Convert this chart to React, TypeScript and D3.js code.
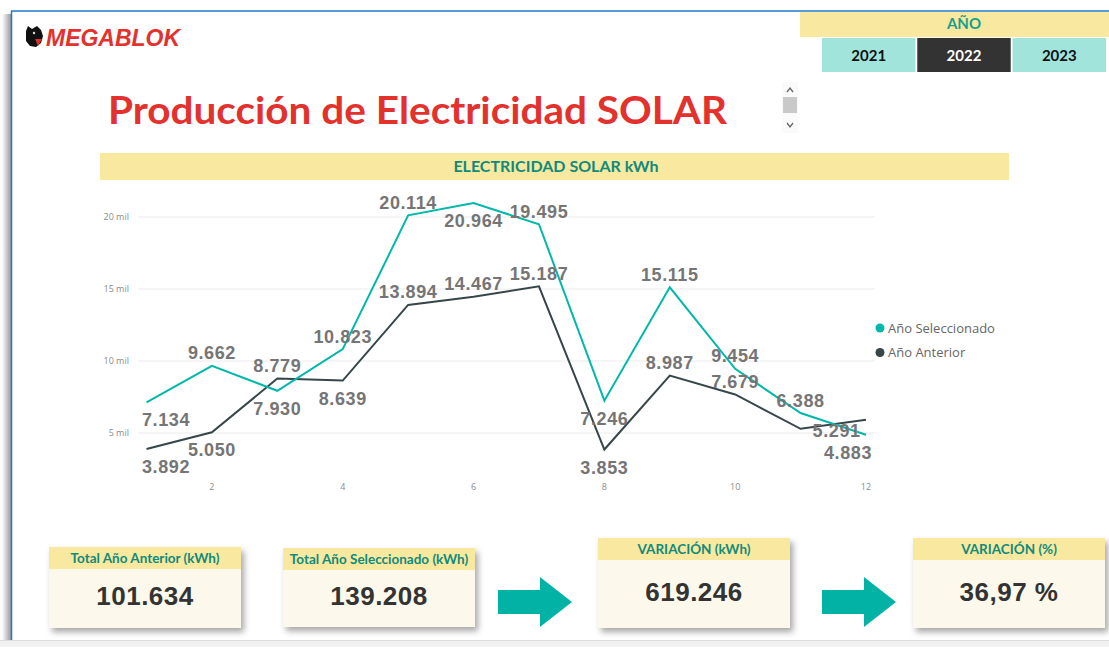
import React, { useEffect, useRef } from "react";
import * as d3 from "d3";

// chart data
const months = [1, 2, 3, 4, 5, 6, 7, 8, 9, 10, 11, 12];
const selectedYear = [7134, 9662, 7930, 10823, 20114, 20964, 19495, 7246, 15115, 9454, 6388, 4883];
const previousYear = [3892, 5050, 8779, 8639, 13894, 14467, 15187, 3853, 8987, 7679, 5291, 5916];
const yTicks = [5000, 10000, 15000, 20000];
const xTicks = [2, 4, 6, 8, 10, 12];
const seriesNames = ["Año Seleccionado", "Año Anterior"];
const years = ["2021", "2022", "2023"];
const activeYear = "2022";
const cardTitles = ["Total Año Anterior (kWh)", "Total Año Seleccionado (kWh)", "VARIACIÓN (kWh)", "VARIACIÓN (%)"];
const cardValues = ["101.634", "139.208", "619.246", "36,97 %"];

// where power bi put each data label: a = above, b = below, r = right, "" = hidden
const selectedLabelPos = ["b", "a", "b", "a", "a", "b", "a", "b", "a", "a", "a", "b"];
const previousLabelPos = ["b", "b", "a", "b", "a", "a", "a", "b", "a", "a", "r", ""];

const TEAL = "#01B8AA";
const DARK = "#374649";
const HEAD_TEAL = "#0f8a7b";
const YELLOW = "#f9e8a0";
const CREAM = "#fdf8ec";

const fmt = d3.formatLocale({ decimal: ",", thousands: ".", grouping: [3], currency: ["", "€"] }).format(",d");

const App = () => {
  const ref = useRef<SVGSVGElement>(null);

  useEffect(() => {
    draw();
  });

  const draw = () => {
    const svg = d3.select(ref.current);
    svg.selectAll("*").remove();

    const defs = svg.append("defs");
    const sh = defs.append("filter").attr("id", "shadow").attr("x", "-10%").attr("y", "-10%").attr("width", "130%").attr("height", "140%");
    sh.append("feDropShadow").attr("dx", 3).attr("dy", 4).attr("stdDeviation", 3).attr("flood-color", "#000").attr("flood-opacity", 0.35);
    const lg = defs.append("linearGradient").attr("id", "leftShade").attr("x1", 0).attr("x2", 1);
    lg.append("stop").attr("offset", 0).attr("stop-color", "#fff");
    lg.append("stop").attr("offset", 1).attr("stop-color", "#9a9a9a");

    // page frame
    svg.append("rect").attr("width", 1109).attr("height", 647).attr("fill", "#fff");
    svg.append("rect").attr("x", 2).attr("y", 14).attr("width", 9).attr("height", 627).attr("fill", "url(#leftShade)");
    svg.append("rect").attr("x", 0).attr("y", 640).attr("width", 1109).attr("height", 7).attr("fill", "#f2f2f2");
    svg.append("line").attr("x1", 0).attr("x2", 1109).attr("y1", 640.5).attr("y2", 640.5).attr("stroke", "#dcdcdc");
    svg.append("line").attr("x1", 11.5).attr("x2", 11.5).attr("y1", 11).attr("y2", 640).attr("stroke", "#1f78c9").attr("stroke-width", 1.5);
    svg.append("line").attr("x1", 11).attr("x2", 1109).attr("y1", 11).attr("y2", 11).attr("stroke", "#1f78c9").attr("stroke-width", 1.5);

    // logo
    const logo = svg.append("g");
    logo.append("path")
      .attr("d", "M26,31 L28,26 L32,29 L37,26 L41,30 L43,36 L41,43 L36,47 L30,46 L26,41 Z")
      .attr("fill", "#111");
    logo.append("path").attr("d", "M35,39 L42,39 L38,46 Z").attr("fill", "#d9302c");
    logo.append("circle").attr("cx", 34).attr("cy", 33).attr("r", 1.2).attr("fill", "#ddd");
    logo.append("text")
      .attr("x", 46).attr("y", 46)
      .attr("textLength", 134).attr("lengthAdjust", "spacingAndGlyphs")
      .style("font-family", "'Liberation Sans', Arial, sans-serif")
      .style("font-weight", 700).style("font-style", "italic").style("font-size", "24px")
      .attr("fill", "#e3312d")
      .text("MEGABLOK");

    // year slicer
    svg.append("rect").attr("x", 800).attr("y", 12).attr("width", 309).attr("height", 25).attr("fill", YELLOW);
    svg.append("text").attr("x", 964).attr("y", 29).attr("text-anchor", "middle")
      .style("font-family", "Lato, sans-serif").style("font-weight", 700).style("font-size", "15px")
      .attr("fill", "#16a08c").text("AÑO");
    const bx = d3.scaleBand().domain(years).range([822, 1106]).paddingInner(0.02);
    const btn = svg.append("g").selectAll("g").data(years).join("g");
    btn.append("rect").attr("x", (d) => bx(d) as number).attr("y", 38).attr("width", bx.bandwidth()).attr("height", 34)
      .attr("fill", (d) => (d === activeYear ? "#333" : "#a0e4dc"));
    btn.append("text").attr("x", (d) => (bx(d) as number) + bx.bandwidth() / 2).attr("y", 61).attr("text-anchor", "middle")
      .style("font-family", "Lato, sans-serif").style("font-weight", 700).style("font-size", "15px")
      .attr("fill", (d) => (d === activeYear ? "#fff" : "#111")).text((d) => d);

    // title
    svg.append("text").attr("x", 108).attr("y", 124)
      .attr("textLength", 619).attr("lengthAdjust", "spacingAndGlyphs")
      .style("font-family", "Lato, 'Open Sans', sans-serif").style("font-weight", 700).style("font-size", "38px")
      .attr("fill", "#e3312d").text("Producción de Electricidad SOLAR");

    // little scrollbar
    const sb = svg.append("g");
    sb.append("rect").attr("x", 782).attr("y", 82).attr("width", 16).attr("height", 51).attr("fill", "#fafafa");
    sb.append("rect").attr("x", 783).attr("y", 97).attr("width", 14).attr("height", 16).attr("fill", "#c9c9c9");
    sb.append("path").attr("d", "M787,92 L790,88 L793,92").attr("fill", "none").attr("stroke", "#666").attr("stroke-width", 1.3);
    sb.append("path").attr("d", "M787,123 L790,127 L793,123").attr("fill", "none").attr("stroke", "#666").attr("stroke-width", 1.3);

    // chart header
    svg.append("rect").attr("x", 100).attr("y", 153).attr("width", 909).attr("height", 27).attr("fill", YELLOW);
    svg.append("text").attr("x", 556).attr("y", 172).attr("text-anchor", "middle")
      .style("font-family", "Lato, sans-serif").style("font-weight", 700).style("font-size", "16px")
      .attr("fill", HEAD_TEAL).text("ELECTRICIDAD SOLAR kWh");

    // scales
    const x = d3.scaleLinear().domain([1, 12]).range([146.5, 866]);
    const y = d3.scaleLinear().domain([5000, 20000]).range([433, 217]);
    const plotLeft = 138;
    const plotRight = 875;

    const grid = svg.append("g");
    grid.selectAll("line").data(yTicks).join("line")
      .attr("x1", plotLeft).attr("x2", plotRight)
      .attr("y1", (d) => y(d)).attr("y2", (d) => y(d))
      .attr("stroke", "#ebebeb").attr("stroke-width", 1);
    grid.selectAll("text").data(yTicks).join("text")
      .attr("x", 129).attr("y", (d) => y(d) + 3).attr("text-anchor", "end")
      .style("font-family", "'Open Sans', sans-serif").style("font-size", "9px")
      .attr("fill", "#8a8a8a").text((d) => `${d / 1000} mil`);

    svg.append("g").selectAll("text").data(xTicks).join("text")
      .attr("x", (d) => x(d)).attr("y", 490).attr("text-anchor", "middle")
      .style("font-family", "'Open Sans', sans-serif").style("font-size", "9px")
      .attr("fill", "#8a8a8a").text((d) => d);

    const line = d3.line<number>().x((_, i) => x(months[i])).y((d) => y(d)).curve(d3.curveLinear);

    svg.append("path").datum(previousYear).attr("d", line).attr("fill", "none").attr("stroke", DARK).attr("stroke-width", 2);
    svg.append("path").datum(selectedYear).attr("d", line).attr("fill", "none").attr("stroke", TEAL).attr("stroke-width", 2);

    // data labels
    const labels = svg.append("g");
    const addLabels = (values: number[], pos: string[]) => {
      values.forEach((v, i) => {
        const p = pos[i];
        if (!p) return;
        const px = x(months[i]);
        const py = y(v);
        const t = labels.append("text")
          .style("font-family", "'Liberation Sans', Arial, sans-serif")
          .style("font-weight", 700).style("font-size", "18px").style("letter-spacing", "0.6px")
          .attr("fill", "#757575").text(fmt(v));
        const w = (t.node() as SVGTextElement).getComputedTextLength();
        let lx = px - w / 2;
        let ly = p === "a" ? py - 6.5 : py + 24;
        if (p === "r") {
          lx = px + 12;
          ly = py + 8;
        }
        lx = Math.max(142, Math.min(872 - w, lx));
        t.attr("x", lx).attr("y", ly);
      });
    };
    addLabels(selectedYear, selectedLabelPos);
    addLabels(previousYear, previousLabelPos);

    // legend
    const leg = svg.append("g").selectAll("g").data(seriesNames).join("g")
      .attr("transform", (_, i) => `translate(880,${328 + i * 24.5})`);
    leg.append("circle").attr("r", 4.5).attr("fill", (_, i) => (i === 0 ? TEAL : DARK));
    leg.append("text").attr("x", 8).attr("y", 4.5)
      .style("font-family", "'Open Sans', sans-serif").style("font-size", "13px")
      .attr("fill", "#666").text((d) => d);

    // kpi cards
    const cards = [
      { x: 49, y: 547, h: 81, head: 22, vy: 605 },
      { x: 283, y: 548, h: 79, head: 22, vy: 605 },
      { x: 598, y: 538, h: 90, head: 22, vy: 601 },
      { x: 913, y: 538, h: 90, head: 22, vy: 601 },
    ];
    cards.forEach((c, i) => {
      const g = svg.append("g");
      g.append("rect").attr("x", c.x).attr("y", c.y).attr("width", 192).attr("height", c.h)
        .attr("fill", CREAM).attr("filter", "url(#shadow)");
      g.append("rect").attr("x", c.x).attr("y", c.y).attr("width", 192).attr("height", c.head).attr("fill", YELLOW);
      g.append("text").attr("x", c.x + 96).attr("y", c.y + 15.5).attr("text-anchor", "middle")
        .style("font-family", "Lato, sans-serif").style("font-weight", 700).style("font-size", "13.5px")
        .attr("fill", HEAD_TEAL).text(cardTitles[i]);
      g.append("text").attr("x", c.x + 96).attr("y", c.vy).attr("text-anchor", "middle")
        .style("font-family", "'Liberation Sans', Arial, sans-serif").style("font-weight", 700)
        .style("font-size", "26px").style("letter-spacing", "0.5px")
        .attr("fill", "#333").text(cardValues[i]);
    });

    // arrows between cards
    [498, 822].forEach((ax) => {
      svg.append("path")
        .attr("d", `M${ax},590 L${ax + 42},590 L${ax + 42},577 L${ax + 74},602 L${ax + 42},627 L${ax + 42},614 L${ax},614 Z`)
        .attr("fill", "#02b3a5");
    });
  };

  return (
    <svg
      ref={ref}
      width={1109}
      height={647}
      style={{ position: "absolute", left: 0, top: 0, display: "block" }}
    />
  );
};

export default App;
